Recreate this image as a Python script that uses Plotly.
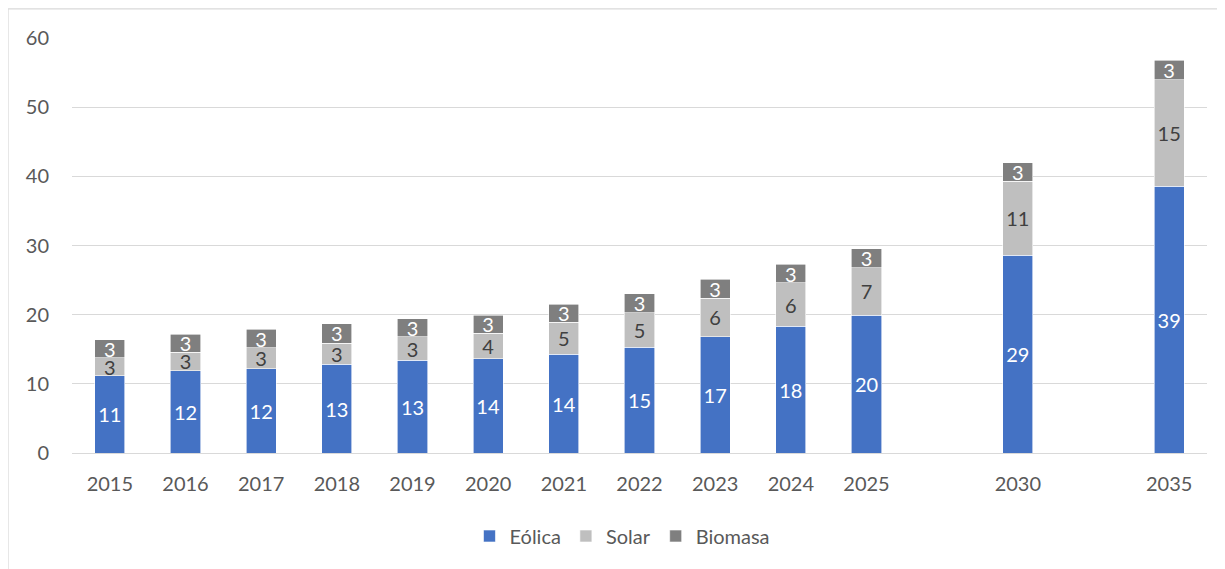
import plotly.graph_objects as go

categories = ["2015", "2016", "2017", "2018", "2019", "2020", "2021", "2022",
              "2023", "2024", "2025", " ", "2030", "  ", "2035"]
eolica = [11.2, 11.9, 12.2, 12.8, 13.4, 13.6, 14.3, 15.3, 16.8, 18.3, 19.9, None, 28.6, None, 38.6]
solar = [2.6, 2.7, 3.0, 3.1, 3.4, 3.7, 4.6, 5.0, 5.6, 6.3, 6.9, None, 10.7, None, 15.4]
biomasa = [2.6, 2.6, 2.7, 2.8, 2.6, 2.6, 2.6, 2.7, 2.7, 2.7, 2.7, None, 2.7, None, 2.8]
yticks = [0, 10, 20, 30, 40, 50, 60]

FONT = "Lato, 'Noto Sans', sans-serif"


def labels(vals):
    return ["" if v is None else str(int(round(v))) for v in vals]


series = [
    ("Eólica", eolica, "#4472C4", "#FFFFFF"),
    ("Solar", solar, "#BFBFBF", "#404040"),
    ("Biomasa", biomasa, "#7F7F7F", "#FFFFFF"),
]

fig = go.Figure()
for name, vals, color, tcolor in series:
    fig.add_trace(go.Bar(
        name=name, x=categories, y=vals,
        marker=dict(color=color, line=dict(color="#FFFFFF", width=0.6)),
        text=labels(vals), textposition="inside", insidetextanchor="middle",
        textangle=0, constraintext="none",
        textfont=dict(family=FONT, size=20, color=tcolor),
        hoverinfo="skip",
    ))

fig.update_layout(
    barmode="stack",
    bargap=0.6,
    width=1225, height=569,
    margin=dict(l=64, r=26, t=30, b=124),
    paper_bgcolor="white", plot_bgcolor="white",
    font=dict(family=FONT, size=20, color="#595959"),
    legend=dict(orientation="h", x=0.485, xanchor="center", y=-0.2, yanchor="middle",
                font=dict(family=FONT, size=20, color="#595959"),
                itemwidth=30, traceorder="normal"),
    xaxis=dict(type="category", categoryorder="array", categoryarray=categories,
               showgrid=False, showline=False, ticks="", ticklabelstandoff=17,
               tickfont=dict(size=20, color="#595959")),
    yaxis=dict(range=[0, 60], tickvals=yticks, showgrid=True, gridcolor="#D9D9D9",
               gridwidth=1.3, zeroline=True, zerolinecolor="#D9D9D9", zerolinewidth=1.3,
               ticks="", ticklabelstandoff=22, tickfont=dict(size=20, color="#595959")),
    shapes=[dict(type="rect", xref="paper", yref="paper",
                 x0=-0.0564, x1=1.03, y0=-0.32, y1=1.07,
                 line=dict(color="#D9D9D9", width=1.3), fillcolor="rgba(0,0,0,0)", layer="below")],
)

fig.write_html("out.html")
